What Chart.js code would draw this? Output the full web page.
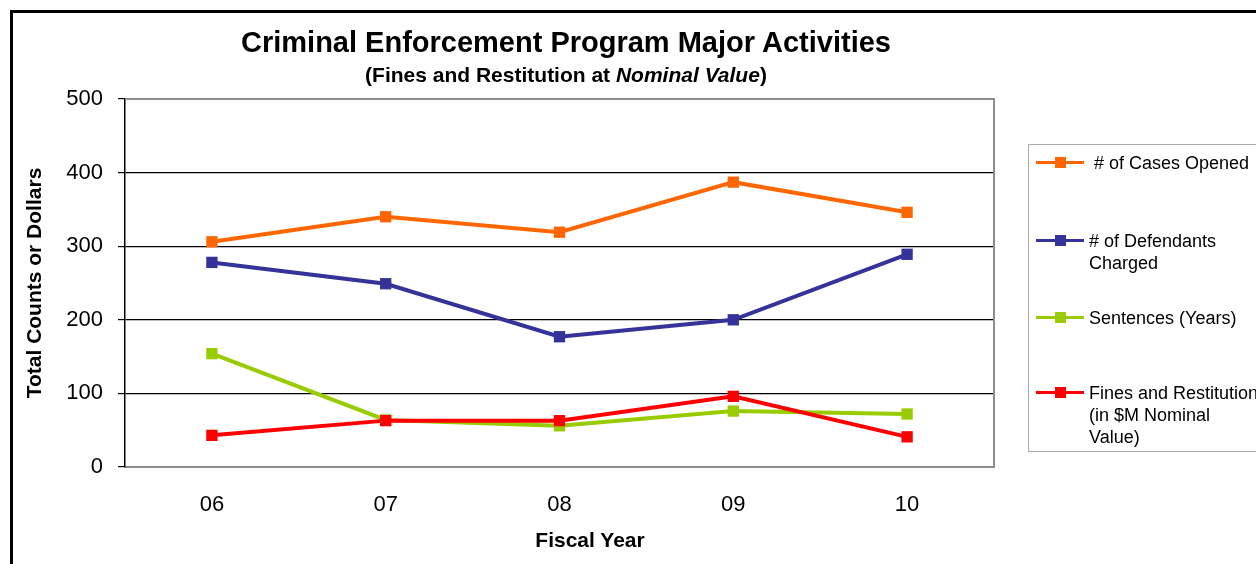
<!DOCTYPE html>
<html>
<head>
<meta charset="utf-8">
<script src="https://cdn.jsdelivr.net/npm/chart.js@4/dist/chart.umd.min.js"></script>
<style>
	body { margin: 0; background: #fff; font-family: "Liberation Sans", Arial, sans-serif; }
	#wrap { position: relative; width: 1256px; height: 564px; overflow: hidden; }
	#canvas0 { position: absolute; left: 0; top: 0; }
	#frame { position: absolute; left: 10px; top: 10px; width: 1300px; height: 600px; border-left: 3px solid #000; border-top: 3px solid #000; }
	.title { position: absolute; left: 0; width: 1132px; text-align: center; font-weight: bold; color: #000; line-height: 1; white-space: nowrap; }
	#xtitle { position: absolute; left: 490px; width: 200px; top: 529px; text-align: center; font-weight: bold; font-size: 21px; line-height: 1; color: #000; }
	#legend { position: absolute; left: 1028px; top: 144px; width: 260px; height: 306px; border: 1px solid #aaa; background: #fff; }
	.item { position: absolute; left: 0; font-size: 18px; line-height: 22px; color: #000; }
	.item .line { position: absolute; left: 7px; top: 9px; width: 48px; height: 3px; }
	.item .mark { position: absolute; left: 26px; top: 5px; width: 11px; height: 11px; }
	.item .txt { position: absolute; left: 60px; top: 0; white-space: nowrap; }
</style>
</head>
<body>
<div id="wrap">
	<canvas id="canvas0" width="1256" height="564"></canvas>
	<div id="frame"></div>
	<div class="title" style="top:28px;font-size:29px;">Criminal Enforcement Program Major Activities</div>
	<div class="title" style="top:64px;font-size:21px;">(Fines and Restitution at <i>Nominal Value</i>)</div>
	<div id="xtitle">Fiscal Year</div>
	<div id="legend"></div>
</div>
<script>
// Fiscal years and the four series
var years = ['06', '07', '08', '09', '10'];
var casesOpened = [306, 340, 319, 387, 346];
var defendantsCharged = [278, 249, 177, 200, 289];
var sentencesYears = [154, 64, 56, 76, 72];
var finesRestitution = [43, 63, 63, 96, 41];

var seriesNames = [
	[' # of Cases Opened'],
	['# of Defendants', 'Charged'],
	['Sentences (Years)'],
	['Fines and Restitution', '(in $M Nominal', 'Value)']
];
var seriesColors = ['#FF6600', '#333399', '#99CC00', '#FF0000'];
var legendTops = [7, 85, 162, 237];

// Legend built by hand, items have multi-line labels
var legend = document.getElementById('legend');
seriesNames.forEach(function(lines, i) {
	let el = document.createElement('div');
	el.className = 'item';
	el.style.top = legendTops[i] + 'px';
	el.innerHTML =
		'<div class="line" style="background:' + seriesColors[i] + '"></div>' +
		'<div class="mark" style="background:' + seriesColors[i] + '"></div>' +
		'<div class="txt">' + lines.join('<br>').replace(/^ /, '&nbsp;') + '</div>';
	legend.appendChild(el);
});

function makeSet(label, data, color, order) {
	return {
		label: label,
		data: data,
		fill: false,
		backgroundColor: color,
		borderColor: color,
		pointBackgroundColor: color,
		pointBorderColor: color,
		pointStyle: 'rect',
		pointRadius: 8,
		pointBorderWidth: 0,
		borderWidth: 4,
		lineTension: 0,
		order: order
	};
}

// Gray frame round the plot area (top and right)
var plotFrame = {
	id: 'plotFrame',
	beforeDatasetsDraw: function(chart) {
		let a = chart.chartArea, c = chart.ctx;
		c.save();
		c.strokeStyle = '#8c8c8c';
		c.lineWidth = 2;
		c.beginPath();
		c.moveTo(a.left, a.top);
		c.lineTo(a.right, a.top);
		c.lineTo(a.right, a.bottom);
		c.stroke();
		c.restore();
	}
};

var ctx = document.getElementById('canvas0').getContext('2d');
var chart = new Chart(ctx, {
	type: 'line',
	data: {
		labels: years,
		datasets: [
			makeSet(seriesNames[0].join(' '), casesOpened, seriesColors[0], 1),
			makeSet(seriesNames[1].join(' '), defendantsCharged, seriesColors[1], 2),
			makeSet(seriesNames[2].join(' '), sentencesYears, seriesColors[2], 4),
			makeSet(seriesNames[3].join(' '), finesRestitution, seriesColors[3], 3)
		]
	},
	plugins: [plotFrame],
	options: {
		responsive: false,
		animation: false,
		devicePixelRatio: 1,
		layout: {
			padding: { left: 0, top: 99, right: 262, bottom: 0 }
		},
		scales: {
			x: {
				offset: true,
				afterFit: function(s) { s.height = 97; },
				grid: { display: false, drawTicks: false },
				border: { display: true, color: '#8c8c8c', width: 2 },
				ticks: {
					color: '#000',
					padding: 25,
					font: { family: 'Liberation Sans', size: 22 }
				}
			},
			y: {
				min: 0,
				max: 500,
				afterFit: function(s) { s.width = 125; },
				ticks: {
					stepSize: 100,
					color: '#000',
					padding: 15,
					font: { family: 'Liberation Sans', size: 22 }
				},
				grid: {
					color: function(c) {
						return (c.tick && (c.tick.value === 0 || c.tick.value === 500)) ? 'rgba(0,0,0,0)' : '#000';
					},
					tickColor: '#000',
					tickLength: 7,
					lineWidth: 1.2
				},
				border: { display: true, color: '#000', width: 1.5 },
				title: {
					display: true,
					text: 'Total Counts or Dollars',
					color: '#000',
					padding: { top: 23, bottom: 0 },
					font: { family: 'Liberation Sans', size: 21, weight: 'bold' }
				}
			}
		},
		plugins: {
			legend: { display: false },
			title: { display: false },
			tooltip: { enabled: false }
		}
	}
});
</script>
</body>
</html>
